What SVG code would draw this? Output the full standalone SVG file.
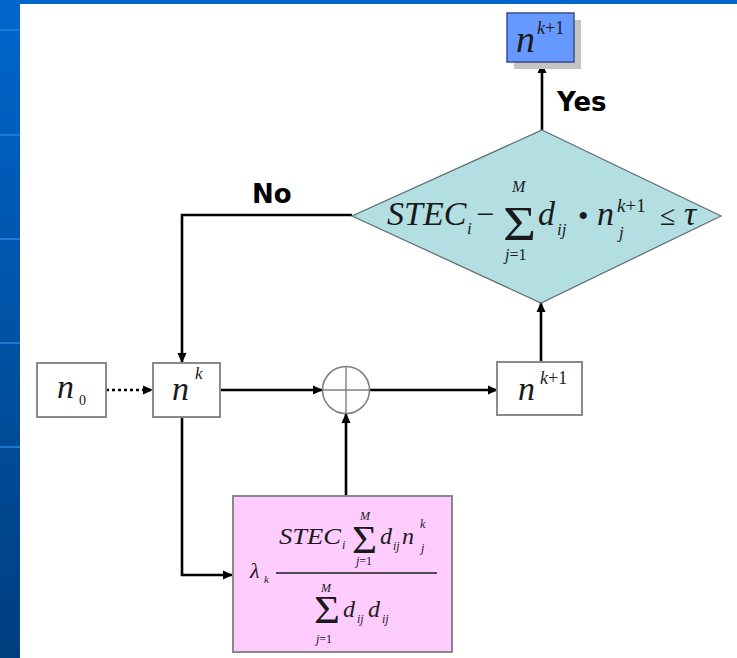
<svg xmlns="http://www.w3.org/2000/svg" width="737" height="658" viewBox="0 0 737 658">
<defs>
<linearGradient id="bg" x1="0" y1="0" x2="0" y2="1">
<stop offset="0" stop-color="#0066CC"/>
<stop offset="1" stop-color="#003E7E"/>
</linearGradient>
<marker id="ah" markerUnits="userSpaceOnUse" markerWidth="10" markerHeight="10" refX="9" refY="5" orient="auto">
<path d="M0,0.5 L10,5 L0,9.5 z" fill="#000"/>
</marker>
<style>
.m{font-family:"Liberation Serif","Times New Roman",serif;font-style:italic;fill:#1a1a1a}
.u{font-family:"Liberation Serif","Times New Roman",serif;font-style:normal;fill:#1a1a1a}
.lbl{font-family:"DejaVu Sans",Verdana,sans-serif;font-weight:bold;font-size:26px;fill:#000}
.box{fill:#fff;stroke:#8a8a8a;stroke-width:2}
.c{fill:none;stroke:#000;stroke-width:2.6}
</style>
</defs>
<rect x="0" y="0" width="737" height="658" fill="url(#bg)"/>
<rect x="0" y="0" width="737" height="4" fill="#0066CC"/>
<g fill="#1E78D8">
<rect x="0" y="29" width="20" height="2"/>
<rect x="0" y="134" width="20" height="2"/>
<rect x="0" y="238" width="20" height="2"/>
<rect x="0" y="342" width="20" height="2"/>
<rect x="0" y="446" width="20" height="2"/>
</g>
<rect x="20" y="4" width="717" height="654" fill="#fff"/>

<g id="connectors">
<line class="c" x1="542" y1="130" x2="542" y2="64" marker-end="url(#ah)"/>
<polyline class="c" points="352,215 182,215 182,362" marker-end="url(#ah)"/>
<line class="c" x1="106" y1="390" x2="152" y2="390" stroke-dasharray="3,3" marker-end="url(#ah)"/>
<line class="c" x1="220" y1="390" x2="322" y2="390" marker-end="url(#ah)"/>
<line class="c" x1="370" y1="390" x2="497" y2="390" marker-end="url(#ah)"/>
<line class="c" x1="541" y1="362" x2="541" y2="303" marker-end="url(#ah)"/>
<polyline class="c" points="182,417 182,575 232,575" marker-end="url(#ah)"/>
<line class="c" x1="346" y1="496" x2="346" y2="414" marker-end="url(#ah)"/>
</g>

<g id="label-no"><text class="lbl" x="252" y="203">No</text></g>
<g id="label-yes"><text class="lbl" x="557" y="111">Yes</text></g>

<g id="result">
<rect x="514" y="20" width="67" height="49" fill="#C4C4C4"/>
<rect x="507" y="13" width="67" height="49" fill="#6699FF" stroke="#3A4E8C" stroke-width="1.5"/>
<text class="m" x="516" y="52" font-size="38">n</text>
<text class="m" x="537" y="34" font-size="18" fill="#333">k<tspan class="u">+1</tspan></text>
</g>

<g id="decision">
<polygon points="542,130 721,216 541,303 352,216" fill="#B3DEE2" stroke="#5E6E70" stroke-width="1.2"/>
<text class="m" x="387" y="225" font-size="34">STEC</text>
<text class="m" x="467" y="234" font-size="17">i</text>
<text class="u" x="476" y="225" font-size="32">−</text>
<text class="u" x="503" y="240" font-size="48" textLength="33" lengthAdjust="spacingAndGlyphs">Σ</text>
<text class="m" x="512" y="192" font-size="16">M</text>
<text class="m" x="505" y="260" font-size="16">j<tspan class="u">=1</tspan></text>
<text class="m" x="538" y="225" font-size="34">d</text>
<text class="m" x="557" y="235" font-size="17">ij</text>
<text class="u" x="578" y="226" font-size="30">•</text>
<text class="m" x="597" y="225" font-size="34">n</text>
<text class="m" x="617" y="212" font-size="19">k<tspan class="u">+1</tspan></text>
<text class="m" x="619" y="238" font-size="17">j</text>
<text class="u" x="660" y="225" font-size="28" fill="#4A5A5A">≤</text>
<text class="m" x="684" y="225" font-size="34">τ</text>
</g>

<g id="n0">
<rect class="box" x="37" y="363" width="69" height="54"/>
<text class="m" x="57" y="398" font-size="34">n</text>
<text class="u" x="79" y="405" font-size="14">0</text>
</g>

<g id="nk">
<rect class="box" x="153" y="363" width="67" height="54"/>
<text class="m" x="172" y="400" font-size="34">n</text>
<text class="m" x="195" y="379" font-size="17">k</text>
</g>

<g id="sum">
<circle cx="346" cy="390" r="23.5" fill="#fff" stroke="#808080" stroke-width="1.6"/>
<line x1="346" y1="367" x2="346" y2="413" stroke="#808080" stroke-width="1.4"/>
<line x1="323" y1="390" x2="369" y2="390" stroke="#808080" stroke-width="1.4"/>
</g>

<g id="nk1">
<rect class="box" x="497" y="362" width="85" height="53"/>
<text class="m" x="518" y="400" font-size="34">n</text>
<text class="m" x="540" y="384" font-size="18">k<tspan class="u">+1</tspan></text>
</g>

<g id="update">
<rect x="233" y="496" width="219" height="156" fill="#FFCCFF" stroke="#888" stroke-width="2"/>
<text class="m" x="250" y="578" font-size="22">λ</text>
<text class="m" x="264" y="583" font-size="11">k</text>
<line x1="276" y1="573" x2="437" y2="573" stroke="#1a1a1a" stroke-width="1.3"/>
<text class="m" x="279" y="544" font-size="24" textLength="62" lengthAdjust="spacingAndGlyphs">STEC</text>
<text class="m" x="342" y="549" font-size="12">i</text>
<text class="u" x="352" y="553" font-size="40" textLength="25" lengthAdjust="spacingAndGlyphs">Σ</text>
<text class="m" x="360" y="520" font-size="12">M</text>
<text class="m" x="356" y="565" font-size="12">j<tspan class="u">=1</tspan></text>
<text class="m" x="380" y="544" font-size="24">d</text>
<text class="m" x="393" y="550" font-size="12">ij</text>
<text class="m" x="402" y="544" font-size="24">n</text>
<text class="m" x="420" y="528" font-size="12">k</text>
<text class="m" x="421" y="552" font-size="12">j</text>
<text class="u" x="314" y="623" font-size="40" textLength="26" lengthAdjust="spacingAndGlyphs">Σ</text>
<text class="m" x="321" y="592" font-size="12">M</text>
<text class="m" x="316" y="643" font-size="12">j<tspan class="u">=1</tspan></text>
<text class="m" x="343" y="617" font-size="24">d</text>
<text class="m" x="357" y="623" font-size="12">ij</text>
<text class="m" x="368" y="617" font-size="24">d</text>
<text class="m" x="382" y="623" font-size="12">ij</text>
</g>
</svg>
